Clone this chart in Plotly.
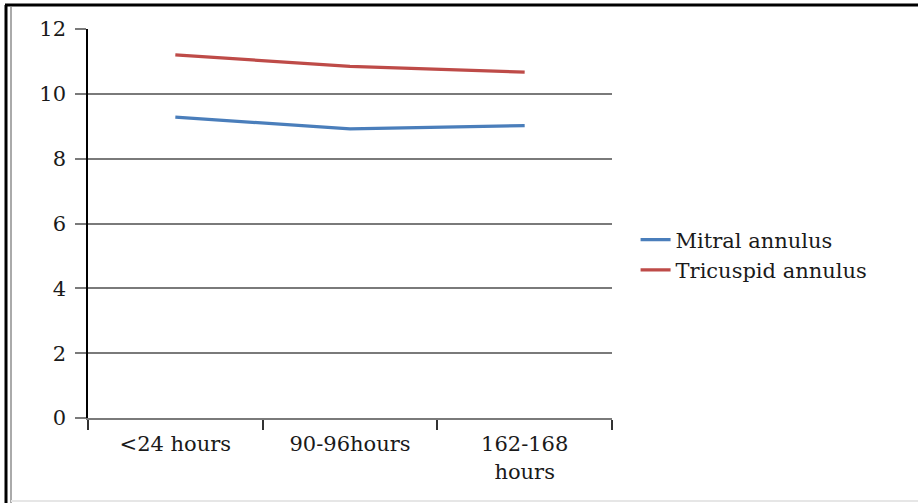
import plotly.graph_objects as go

categories = ["<24 hours", "90-96hours", "162-168<br>hours"]
mitral = [9.28, 8.92, 9.02]
tricuspid = [11.2, 10.85, 10.67]
y_ticks = [0, 2, 4, 6, 8, 10, 12]

W, H = 918, 503
L, R, T, B = 88, 612, 29, 418

def px(x):
    return (x - L) / (R - L)

def py(y):
    return (B - y) / (B - T)

FONT = "DejaVu Serif"
FS = 21

fig = go.Figure()
fig.add_trace(go.Scatter(x=categories, y=mitral, mode="lines", name="Mitral annulus",
                         line=dict(color="#4A7EBB", width=3.2)))
fig.add_trace(go.Scatter(x=categories, y=tricuspid, mode="lines", name="Tricuspid annulus",
                         line=dict(color="#BE4B48", width=3.2)))

shapes = [
    dict(type="line", xref="paper", yref="paper", x0=px(5), x1=px(918), y0=py(5), y1=py(5),
         line=dict(color="black", width=3)),
    dict(type="line", xref="paper", yref="paper", x0=px(6), x1=px(6), y0=py(5), y1=py(503),
         line=dict(color="black", width=3)),
    dict(type="line", xref="paper", yref="paper", x0=px(11), x1=px(11), y0=py(7), y1=py(503),
         line=dict(color="#aaaaaa", width=2)),
    dict(type="line", xref="paper", yref="paper", x0=px(11), x1=px(918), y0=py(501), y1=py(501),
         line=dict(color="#e6e6e6", width=2)),
]

fig.update_layout(
    width=W, height=H,
    margin=dict(l=L, r=W - R, t=T, b=H - B),
    paper_bgcolor="white", plot_bgcolor="white",
    font=dict(family=FONT, size=FS, color="#1a1a1a"),
    showlegend=True,
    legend=dict(x=1.045, y=py(255), yanchor="middle", xanchor="left",
                font=dict(family=FONT, size=FS, color="#1a1a1a"),
                tracegroupgap=0, bgcolor="rgba(0,0,0,0)"),
    xaxis=dict(type="category", range=[-0.5, 2.5], tickson="boundaries", ticks="outside", ticklen=10,
               tickcolor="#333333", tickwidth=1.5, showgrid=False,
               showline=True, linecolor="#7a7a7a", linewidth=2, zeroline=False,
               ticklabelstandoff=6,
               tickfont=dict(family=FONT, size=FS, color="#1a1a1a")),
    yaxis=dict(range=[0, 12], tickvals=y_ticks, ticks="outside", ticklen=11,
               tickcolor="#7a7a7a", tickwidth=2,
               showgrid=True, gridcolor="#7a7a7a", gridwidth=2,
               showline=True, linecolor="black", linewidth=1.5,
               zeroline=False, ticklabelstandoff=5,
               tickfont=dict(family=FONT, size=FS, color="#1a1a1a")),
    shapes=shapes,
)

fig.write_html("out.html", config={"displayModeBar": False},
               post_script="document.body.style.margin='0px';")
